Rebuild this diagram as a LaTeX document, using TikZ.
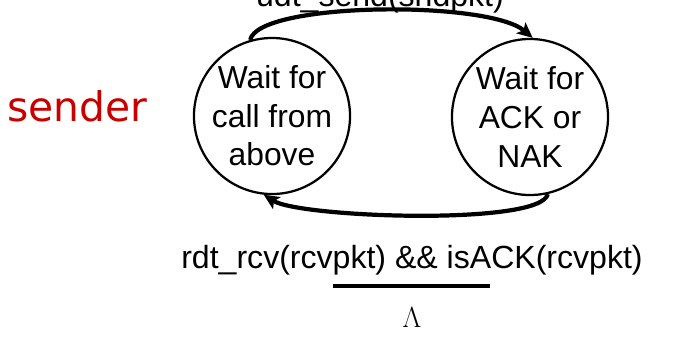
\documentclass[tikz,border=0pt]{standalone}
\usepackage{fontspec}
\setmainfont{Liberation Sans}
\newfontfamily\senderfont{DejaVu Sans}
\usetikzlibrary{arrows.meta, positioning}
\definecolor{rojo}{RGB}{200,0,0}
\tikzset{
    estado/.style={draw, circle, minimum size=3.9cm, inner sep=0pt, line width=1.6pt, align=center, font=\fontsize{22.6}{27.4}\selectfont},
    flecha/.style={line width=3pt, -{Stealth[length=11pt, width=10pt, inset=2.5pt]}},
    etiqueta/.style={inner sep=0pt, anchor=base, font=\fontsize{22.8}{27}\selectfont},
}

\begin{document}
\begin{tikzpicture}[x=0.025cm, y=-0.025cm]
\useasboundingbox (0,0) rectangle (687,345);
% side name
\node[inner sep=0pt, anchor=base west, text=rojo, font=\senderfont\fontsize{29}{34}\selectfont] (lado) at (7,121) {sender};
% states
\node[estado] (espera) at (272,116) {Wait for\\call from\\above};
\node[estado] (ack) at (530,117) {Wait for\\ACK or\\NAK};
% transitions
\draw[flecha] (espera.106) .. controls +(8,-38) and +(-45,-38) .. (ack.88);
\draw[flecha] (ack.283) .. controls +(-7,32) and +(36,23) .. (espera.264);
% event / action
\node[etiqueta] (envio) at (380,6) {udt\_send(sndpkt)};
\node[etiqueta] (evento) at (412,268) {rdt\_rcv(rcvpkt) \&\& isACK(rcvpkt)};
\coordinate (barraI) at (333,286);
\coordinate (barraD) at (490,286);
\draw[line width=3.5pt] (barraI) -- (barraD);
\node[inner sep=0pt, anchor=base, font=\fontsize{21}{25}\selectfont] (accion) at (412,327) {$\Lambda$};
\end{tikzpicture}
\end{document}
